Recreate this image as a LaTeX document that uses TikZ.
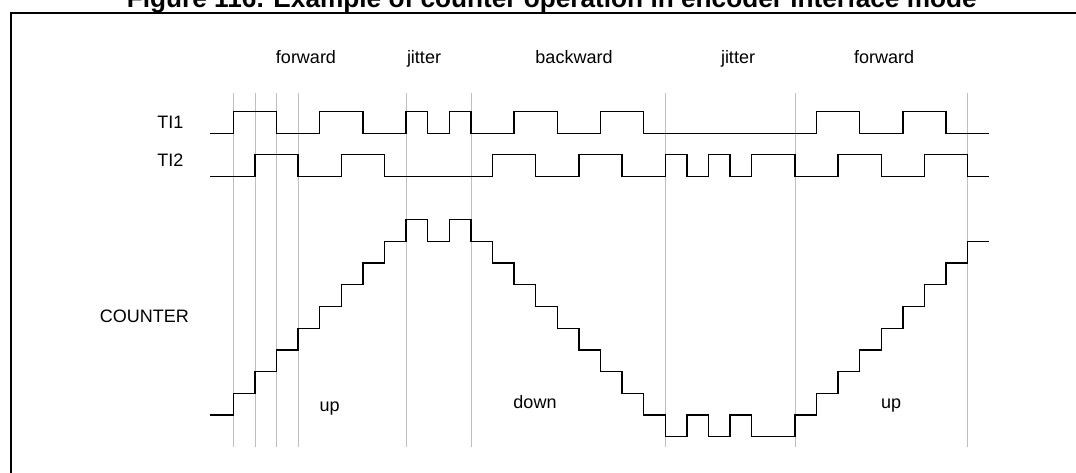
\documentclass[tikz,border=0pt]{standalone}
\usepackage{fontspec}
\setmainfont{Liberation Sans}
\begin{document}
\begin{tikzpicture}[x=1pt,y=-1pt,
  lbl/.style={inner sep=0pt,font=\fontsize{18}{20}\selectfont},
  sig/.style={line width=1.3pt,line join=miter},
  grid/.style={draw=black!25,line width=0.8pt},
  frame/.style={line width=2pt}]
\useasboundingbox (0,0) rectangle (1076,473);
\clip (0,0) rectangle (1076,473);
\fill[white] (0,0) rectangle (1076,473);
% title (cut off at top)
\node[inner sep=0pt,anchor=base west,font=\fontsize{26.2}{28}\selectfont\bfseries] (title) at (126.7,7.3)
  {Figure 116. Example of counter operation in encoder interface mode};
% frame
\draw[frame] (11,480) -- (11,12.8) -- (1090,12.8);
% labels
\node[lbl,anchor=base] (fw1) at (306,64) {forward};
\node[lbl,anchor=base] (ji1) at (424,64) {jitter};
\node[lbl,anchor=base] (bw) at (574,64) {backward};
\node[lbl,anchor=base] (ji2) at (738,64) {jitter};
\node[lbl,anchor=base] (fw2) at (884,64) {forward};
\node[lbl,anchor=base east] (ti1) at (183.5,128.3) {TI1};
\node[lbl,anchor=base east] (ti2) at (183.5,166.7) {TI2};
\node[lbl,anchor=base east] (cnt) at (189,322.7) {COUNTER};
\node[lbl,anchor=base] (up1) at (329.7,411) {up};
\node[lbl,anchor=base] (dn) at (535,408.3) {down};
\node[lbl,anchor=base] (up2) at (891,408.3) {up};
\begin{scope}[xshift=233.3pt,x=21.6pt]
  % gray time markers
  \foreach \k in {0,1,2,3,8,11,20,26,34}
    \draw[grid] (\k,93.3) -- (\k,446.7);
  % TI1
  \draw[sig] (-1.07,133.3) -| (0,111.7) -| (2,133.3) -| (4,111.7) -| (6,133.3)
    -| (8,111.7) -| (9,133.3) -| (10,111.7) -| (11,133.3) -| (13,111.7)
    -| (15,133.3) -| (17,111.7) -| (19,133.3) -| (27,111.7) -| (29,133.3)
    -| (31,111.7) -| (33,133.3) -- (35,133.3);
  % TI2
  \draw[sig] (-1.07,176.7) -| (1,154.3) -| (3,176.7) -| (5,154.3) -| (7,176.7)
    -| (12,154.3) -| (14,176.7) -| (16,154.3) -| (18,176.7) -| (20,154.3)
    -| (21,176.7) -| (22,154.3) -| (23,176.7) -| (24,154.3) -| (26,176.7)
    -| (28,154.3) -| (30,176.7) -| (32,154.3) -| (34,176.7) -- (35,176.7);
  % COUNTER
  \draw[sig] (-1.07,415) -| (0,393.3) -| (1,371.6) -| (2,349.9) -| (3,328.2)
    -| (4,306.5) -| (5,284.8) -| (6,263.1) -| (7,241.4) -| (8,219.7)
    -| (9,241.4) -| (10,219.7) -| (11,241.4) -| (12,263.1) -| (13,284.8)
    -| (14,306.5) -| (15,328.2) -| (16,349.9) -| (17,371.6) -| (18,393.3)
    -| (19,415) -| (20,436.7) -| (21,415) -| (22,436.7) -| (23,415)
    -| (24,436.7) -| (26,415) -| (27,393.3) -| (28,371.6) -| (29,349.9)
    -| (30,328.2) -| (31,306.5) -| (32,284.8) -| (33,263.1) -| (34,241.4)
    -- (35,241.4);
\end{scope}
\end{tikzpicture}
\end{document}
